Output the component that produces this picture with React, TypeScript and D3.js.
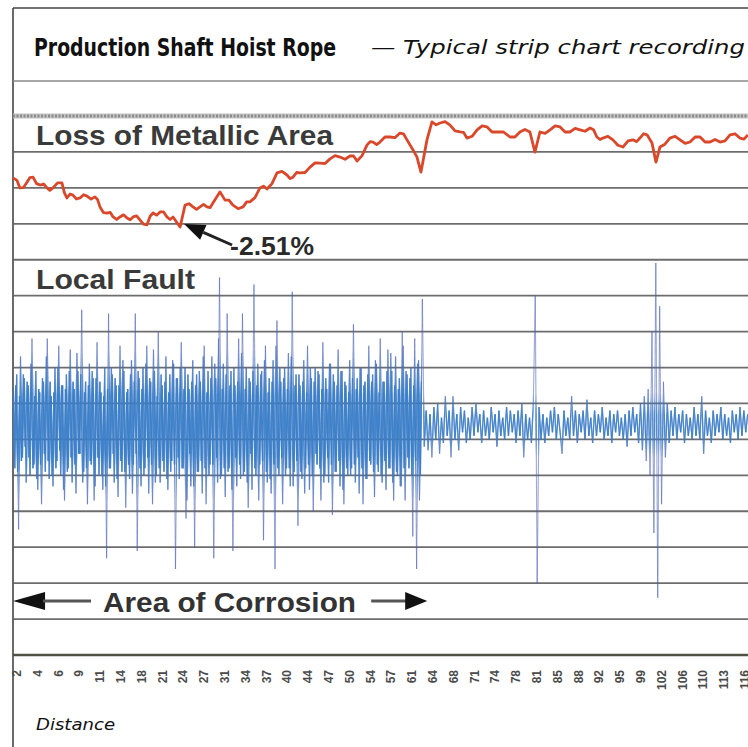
import React from 'react';
import * as d3 from 'd3';

const W = 748;
const H = 747;

// distance labels printed under the strip
const distanceLabels = [2, 4, 6, 9, 11, 14, 18, 21, 24, 27, 31, 34, 37, 40, 44, 47, 50, 54, 57, 61, 64, 68, 71, 74, 78, 81, 85, 88, 92, 95, 99, 102, 106, 110, 113, 116];

// loss of metallic area trace: position (in label divisions) and LMA (%)
const lmaPos = [
  -0.19, 0.0, 0.14, 0.31, 0.48, 0.62, 0.77, 0.94, 1.11, 1.28, 1.44, 1.58, 1.73, 1.95, 2.16, 2.28, 2.4, 2.55, 2.69, 2.86,
  3.03, 3.2, 3.37, 3.56, 3.75, 3.87, 3.99, 4.16, 4.33, 4.48, 4.62, 4.79, 4.95, 5.12, 5.29, 5.44, 5.58, 5.75, 5.91, 6.08,
  6.25, 6.4, 6.54, 6.71, 6.88, 7.05, 7.21, 7.36, 7.5, 7.84, 8.08, 8.27, 8.46, 8.63, 8.8, 8.97, 9.13, 9.28, 9.42, 9.76,
  10.0, 10.19, 10.38, 10.63, 10.87, 11.04, 11.2, 11.44, 11.68, 11.85, 12.02, 12.26, 12.5, 12.74, 12.98, 13.13, 13.27, 13.44, 13.61, 13.85,
  14.09, 14.33, 14.57, 14.81, 15.05, 15.29, 15.53, 15.77, 16.01, 16.18, 16.35, 16.59, 16.83, 16.98, 17.12, 17.29, 17.45, 17.69, 17.93, 18.17,
  18.41, 18.58, 18.75, 19.04, 19.23, 19.42, 19.71, 19.95, 20.15, 20.34, 20.58, 20.82, 21.06, 21.3, 21.47, 21.63, 21.88, 22.12, 22.36, 22.6,
  22.84, 23.08, 23.39, 23.7, 23.94, 24.18, 24.42, 24.66, 24.9, 25.14, 25.39, 25.63, 25.87, 26.11, 26.35, 26.59, 26.83, 27.07, 27.31, 27.55,
  27.72, 27.88, 28.03, 28.17, 28.41, 28.65, 28.89, 29.13, 29.38, 29.62, 29.79, 29.95, 30.12, 30.29, 30.53, 30.72, 30.91, 31.15, 31.39, 31.64,
  31.88, 32.12, 32.36, 32.6, 32.84, 33.08, 33.32, 33.56, 33.8, 34.04, 34.28, 34.52, 34.76, 34.95, 35.14
];
const lmaPct = [
  -1.14, -1.21, -1.42, -1.41, -1.26, -1.13, -1.12, -1.3, -1.34, -1.31, -1.42, -1.49, -1.42, -1.28, -1.28, -1.56, -1.7, -1.59, -1.62, -1.73,
  -1.7, -1.61, -1.65, -1.73, -1.67, -1.74, -1.95, -2.11, -2.12, -2.1, -2.23, -2.3, -2.23, -2.17, -2.26, -2.31, -2.23, -2.2, -2.31, -2.43,
  -2.45, -2.21, -2.12, -2.18, -2.09, -2.09, -2.23, -2.3, -2.23, -2.51, -1.9, -1.86, -1.95, -2.02, -1.95, -1.88, -1.95, -1.97, -1.84, -1.53,
  -1.76, -1.76, -1.9, -2.0, -1.95, -1.81, -1.81, -1.69, -1.42, -1.37, -1.45, -1.3, -1.0, -0.96, -1.06, -1.16, -1.12, -0.99, -1.0, -0.99,
  -0.84, -0.72, -0.73, -0.74, -0.61, -0.52, -0.56, -0.62, -0.53, -0.53, -0.67, -0.52, -0.22, -0.13, -0.14, -0.21, -0.14, 0.0, 0.0, -0.02,
  0.11, 0.09, -0.08, -0.36, -0.56, -0.98, -0.08, 0.42, 0.34, 0.39, 0.43, 0.33, 0.17, 0.14, 0.13, -0.03, 0.02, 0.2, 0.31, 0.28,
  0.14, 0.14, 0.14, 0.0, 0.0, 0.14, 0.21, 0.14, -0.42, 0.14, 0.1, 0.2, 0.31, 0.28, 0.14, 0.14, 0.24, 0.2, 0.16, 0.25,
  0.2, 0.0, -0.07, -0.03, 0.02, -0.08, -0.23, -0.28, -0.11, -0.08, -0.13, -0.03, 0.09, 0.06, -0.17, -0.7, -0.28, -0.2, -0.03, 0.02,
  -0.08, -0.18, -0.14, 0.0, 0.0, -0.14, -0.14, -0.07, -0.14, -0.11, 0.06, 0.09, -0.03, -0.06, 0.06
];
const lmaMinimum = { pos: 7.84, pct: -2.51 };

// local fault trace, one reading every 0.092 divisions from -0.2
const faultStart = -0.2;
const faultStep = 0.092;
const faultCorroded = [
  10, -12, 14, -29, 19, -9, 13, -16, 11, -14, 24, -11, 15, -18, 9, -22, 12, -13, 24, -15,
  8, -17, 16, -10, 22, -14, 11, -21, 14, -12, 21, -16, 10, -19, 15, -8, 32, -13, 12, -22,
  17, -11, 13, -17, 23, -14, 9, -18, 16, -37, 31, -12, 14, -16, 11, -20, 22, -13, 15, -23,
  10, -15, 18, -11, 31, -35, 13, -17, 16, -12, 22, -19, 12, -22, 15, -14, 26, -16, 11, -13,
  19, -18, 14, -10, 17, -40, 13, -15, 23, -12, 16, -21, 10, -17, 18, -34, 14, -13, 12, -19,
  22, -22, 15, -11, 19, -37, 13, -16, 41, -14, 17, -20, 31, -12, 15, -35, 11, -17, 24, -15,
  31, -13, 16, -23, 12, -18, 39, -14, 17, -11, 15, -32, 22, -16, 13, -19, 18, -40, 29, -14,
  12, -22, 16, -12, 20, -17, 37, -13, 14, -28, 11, -15, 18, -12, 22, -18, 13, -24, 16, -11,
  14, -21, 23, -14, 10, -16, 17, -25, 12, -13, 21, -17, 15, -22, 11, -14, 18, -12, 28, -16,
  13, -19, 16, -22, 12, -15, 22, -11, 14, -20, 17, -13, 24, -16, 12, -18, 21, -12, 15, -21,
  19, -14, 13, -17, 22, -21, 14, -12, 16, -31, 24, -40, 18, -14, 35
];
// readings half a step after each corroded reading
const faultCorrodedMid = [
  -7, 11, -13, 8, -10, 14, -6, 12, -9, 17, -12, 8, -15, 10, -11, 13, -8, 19, -10, 12,
  -14, 9, -12, 16, -7, 11, -18, 10, -13, 15, -9, 12, -11, 20, -8, 14, -16, 9, -12, 11,
  -10, 15, -21, 13, -9, 12, -14, 8, -17, 10, -12, 16, -8, 13, -15, 11, -10, 18, -13, 9,
  -11, 14, -19, 12, -8, 15, -12, 10, -14, 17, -9, 13, -11, 21, -16, 8, -12, 14, -10, 12,
  -15, 9, -13, 18, -11, 13, -9, 16, -12, 10, -26, 14, -8, 12, -17, 11, -13, 15, -10, 19,
  -12, 9, -14, 13, -11, 17, -9, 24, -15, 10, -12, 14, -13, 11, -18, 16, -9, 12, -11, 20,
  -14, 10, -16, 13, -8, 15, -12, 11, -21, 14, -10, 18, -13, 9, -15, 12, -11, 22, -12, 16,
  -9, 13, -14, 10, -12, 19, -17, 11, -10, 14, -13, 12, -19, 9, -11, 16, -14, 12, -8, 15,
  -12, 10, -16, 13, -9, 17, -11, 14, -13, 11, -10, 15, -18, 12, -12, 9, -14, 13, -11, 10,
  -9, 16, -12, 11, -15, 14, -10, 12, -13, 18, -11, 9, -14, 12, -10, 15, -12, 20, -16, 11,
  -13, 10, -17, 26, -12, 15, -9, 13, -14, 11, -10, 17, -21, 12
];
const faultSound = [
  -6, 4, -7, 3, -9, 5, -4, 6, -8, 2, -5, 8, -3, 4, -9, 8, -4, 3, -7, 5,
  -2, 4, -5, 2, -4, 5, -3, 6, -2, 3, -5, 4, -3, 2, -4, 5, -2, 3, -6, 4,
  -3, 2, -4, 5, -3, 4, -2, 3, -5, 4, -3, 6, -9, 3, -4, 2, -5, 6, 36, -44,
  5, -4, 3, -5, 2, -3, 4, -2, 5, -4, 3, -2, -8, 4, -3, 2, -4, 8, -3, 4,
  -5, 3, -2, 4, -4, 7, -3, 2, -5, 4, -3, 3, -2, 5, -4, 2, -3, 4, -5, 3,
  -2, 4, -3, 2, -4, 3, -6, 4, -3, 5, -2, 3, -5, 6, -7, 8, -10, 10, -14, 26,
  -30, 45, -48, 33, -22, 12, -9, 6, -5, 4, -3, 5, -4, 3, -2, 4, -5, 3, -3, 2,
  -4, 5, -3, 3, -4, 8, -8, 4, -3, 2, -5, 4, -3, 3, -2, 5, -4, 3, -3, 2,
  -5, 4, -2, 3, -4, 5, -3, 4, -2, 3
];

// extent of the corroded stretch, in label divisions
const corrosionSpan = [-0.19, 19.72];

const sans = 'Liberation Sans, Arial, sans-serif';
const narrow = 'DejaVu Sans Condensed, Liberation Sans, sans-serif';
const italicFont = 'DejaVu Sans, Noto Sans, sans-serif';

type Seg = { x1: number; y1: number; x2: number; y2: number };

export default function App() {
  const x = d3.scaleLinear()
    .domain([0, distanceLabels.length - 1])
    .range([17, 17 + 20.8 * (distanceLabels.length - 1)]);
  const yLma = d3.scaleLinear().domain([0, -2.51]).range([137, 227]);
  const yFault = d3.scaleLinear().domain([-50, 50]).range([605, 245]);
  const row = d3.scaleLinear().domain([0, 15]).range([116, 655]);

  const lmaLine = d3.line<number>()
    .x((_, i) => x(lmaPos[i]))
    .y(d => yLma(d));

  // zig-zag segments for both fault traces
  const toSegs = (vals: number[], offset: number): Seg[] =>
    vals.slice(0, -1).map((v, i) => ({
      x1: x(faultStart + (i + offset) * faultStep),
      y1: yFault(v),
      x2: x(faultStart + (i + 1 + offset) * faultStep),
      y2: yFault(vals[i + 1])
    }));
  const segs = toSegs(faultCorroded.concat(faultSound), 0)
    .concat(toSegs(faultCorrodedMid, 0.5));
  const corrEnd = x(faultStart + (faultCorroded.length - 1) * faultStep);

  // arrow pointing at the deepest loss
  const tipX = x(lmaMinimum.pos) + 4;
  const tipY = yLma(lmaMinimum.pct) - 3;
  const tailX = tipX + 48;
  const tailY = tipY + 21;
  const len = Math.hypot(tailX - tipX, tailY - tipY);
  const ux = (tailX - tipX) / len;
  const uy = (tailY - tipY) / len;
  const bx = tipX + ux * 21;
  const by = tipY + uy * 21;
  const head = `${tipX},${tipY} ${bx - uy * 8},${by + ux * 8} ${bx + uy * 8},${by - ux * 8}`;

  const cy = 601;
  const cl = x(corrosionSpan[0]);
  const cr = x(corrosionSpan[1]);

  const segLines = (key: string) => segs.map((s, i) => (
    <line key={key + i} x1={s.x1} y1={s.y1} x2={s.x2} y2={s.y2} />
  ));

  return (
    <svg width={W} height={H} style={{ position: 'absolute', left: 0, top: 0, background: '#fff' }}>
      <defs>
        <linearGradient id="fadeCorr" gradientUnits="userSpaceOnUse" x1={0} x2={0} y1={yFault(21)} y2={yFault(-21)}>
          <stop offset="0" stopColor="#000" />
          <stop offset="0.3" stopColor="#fff" />
          <stop offset="0.7" stopColor="#fff" />
          <stop offset="1" stopColor="#000" />
        </linearGradient>
        <linearGradient id="fadeSound" gradientUnits="userSpaceOnUse" x1={0} x2={0} y1={yFault(9)} y2={yFault(-9)}>
          <stop offset="0" stopColor="#000" />
          <stop offset="0.35" stopColor="#fff" />
          <stop offset="0.65" stopColor="#fff" />
          <stop offset="1" stopColor="#000" />
        </linearGradient>
        <mask id="core" maskUnits="userSpaceOnUse" x={0} y={0} width={W} height={H}>
          <rect x={13} y={yFault(21)} width={corrEnd - 13} height={yFault(-21) - yFault(21)} fill="url(#fadeCorr)" />
          <rect x={corrEnd} y={yFault(9)} width={W - corrEnd} height={yFault(-9) - yFault(9)} fill="url(#fadeSound)" />
        </mask>
      </defs>

      {/* frame */}
      <line x1={13} x2={13} y1={8} y2={H} stroke="#444" strokeWidth={1.6} />
      <line x1={13} x2={W} y1={8} y2={8} stroke="#444" strokeWidth={1.4} />

      {/* title */}
      <text x={34} y={56} fontFamily={narrow} fontWeight="bold" fontSize={24} fill="#111"
        textLength={302} lengthAdjust="spacingAndGlyphs">Production Shaft Hoist Rope</text>
      <text x={371} y={54} fontFamily={italicFont} fontStyle="italic" fontSize={19} fill="#111"
        textLength={374} lengthAdjust="spacingAndGlyphs">— Typical strip chart recording</text>

      {/* chart rulings */}
      <line x1={13} x2={W} y1={81} y2={81} stroke="#8a8a8a" strokeWidth={1.6} />
      <line x1={13} x2={W} y1={row(0)} y2={row(0)} stroke="#c4c4c4" strokeWidth={5} />
      <line x1={13} x2={W} y1={row(0)} y2={row(0)} stroke="#8c8c8c" strokeWidth={3} strokeDasharray="2 1.5" />
      {d3.range(1, 15).map(k => (
        <line key={k} x1={13} x2={W} y1={row(k)} y2={row(k)} stroke="#5e5e5e" strokeWidth={1.8} opacity={0.9} />
      ))}
      <line x1={13} x2={W} y1={row(15)} y2={row(15)} stroke="#4f5044" strokeWidth={2.4} />

      {/* local fault trace: faint full swing, saturated core */}
      <g stroke="#4d63b6" strokeWidth={1.1} strokeOpacity={0.55}>
        {segLines('a')}
      </g>
      <g stroke="#3a80c9" strokeWidth={1.35} strokeOpacity={0.85} mask="url(#core)">
        {segLines('b')}
      </g>

      {/* loss of metallic area trace */}
      <path d={lmaLine(lmaPct) || ''} fill="none" stroke="#d9482b" strokeWidth={2.8} strokeLinejoin="round" />

      {/* labels */}
      <text x={36} y={145} fontFamily={sans} fontWeight="bold" fontSize={28} fill="#3a3a3a"
        textLength={297} lengthAdjust="spacingAndGlyphs">Loss of Metallic Area</text>
      <text x={36} y={289} fontFamily={sans} fontWeight="bold" fontSize={28} fill="#3a3a3a"
        textLength={159} lengthAdjust="spacingAndGlyphs">Local Fault</text>
      <text x={tailX - 2} y={tailY + 10} fontFamily={sans} fontWeight="bold" fontSize={26} fill="#2a2a2a"
        textLength={84} lengthAdjust="spacingAndGlyphs">-2.51%</text>
      <line x1={tailX} y1={tailY} x2={bx} y2={by} stroke="#222" strokeWidth={3} />
      <polygon points={head} fill="#111" />

      {/* area of corrosion */}
      <polygon points={`${cl},${cy} ${cl + 32},${cy - 9} ${cl + 32},${cy + 9}`} fill="#111" />
      <line x1={cl + 30} x2={cl + 78} y1={cy} y2={cy} stroke="#555" strokeWidth={3} />
      <text x={103} y={612} fontFamily={sans} fontWeight="bold" fontSize={28} fill="#333"
        textLength={253} lengthAdjust="spacingAndGlyphs">Area of Corrosion</text>
      <line x1={cr - 56} x2={cr - 20} y1={cy} y2={cy} stroke="#555" strokeWidth={3} />
      <polygon points={`${cr},${cy} ${cr - 22},${cy - 9} ${cr - 22},${cy + 9}`} fill="#111" />

      {/* distance tick labels */}
      {distanceLabels.map((d, i) => (
        <text key={d} transform={`translate(${x(i) + 4},670) rotate(-90)`} textAnchor="end"
          fontFamily={sans} fontWeight="bold" fontSize={12} fill="#4a4a4a">{d}</text>
      ))}
      <text x={36} y={730} fontFamily={italicFont} fontStyle="italic" fontSize={16} fill="#111"
        textLength={79} lengthAdjust="spacingAndGlyphs">Distance</text>
    </svg>
  );
}
